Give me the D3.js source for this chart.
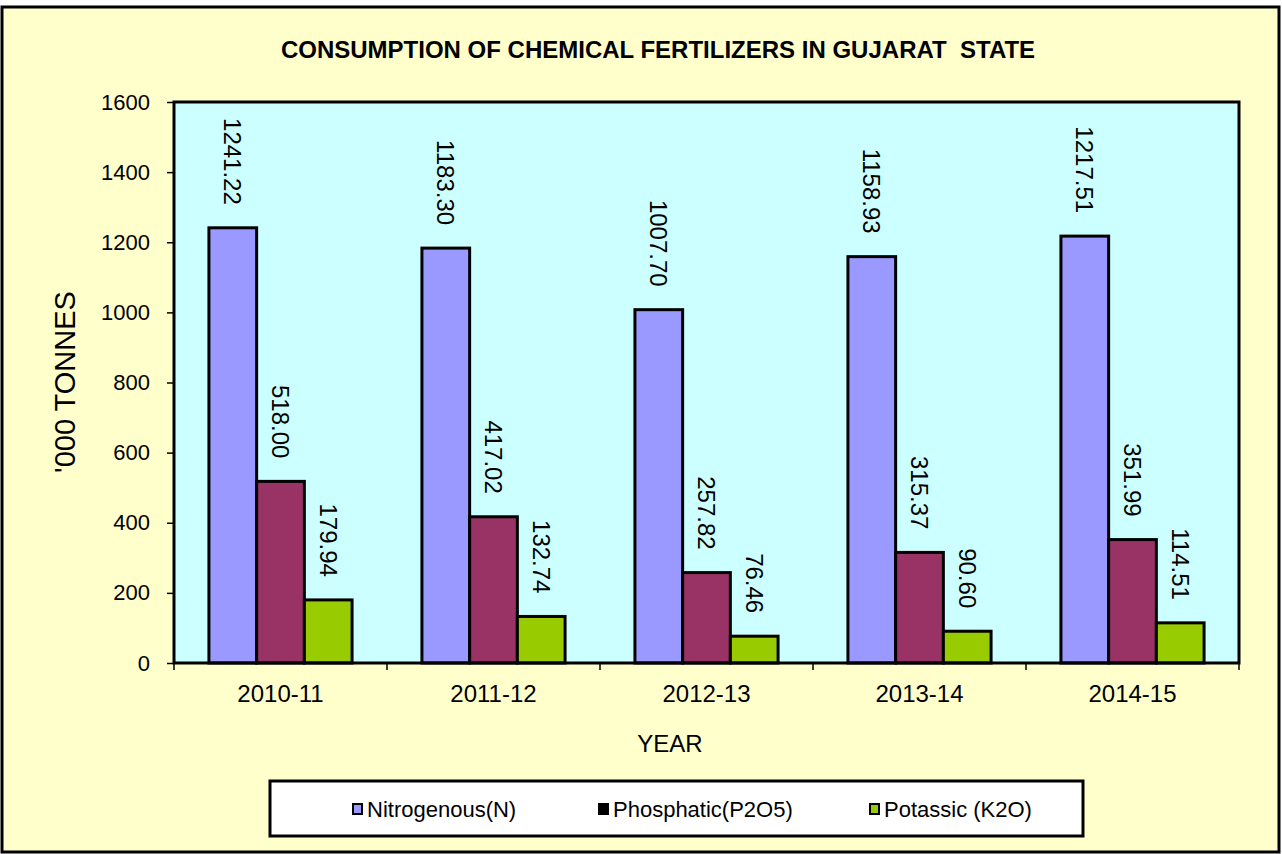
<!DOCTYPE html>
<html>
<head>
<meta charset="utf-8">
<script src="https://cdn.jsdelivr.net/npm/d3@7"></script>
<style>
  body { margin: 0; background: #ffffff; }
  text { font-family: "Liberation Sans", Arial, sans-serif; fill: #000; }
</style>
</head>
<body>
<div class="chart"></div>
<script>
const years = ["2010-11", "2011-12", "2012-13", "2013-14", "2014-15"];
const seriesNames = ["Nitrogenous(N)", "Phosphatic(P2O5)", "Potassic (K2O)"];
const nitrogenous = [1241.22, 1183.30, 1007.70, 1158.93, 1217.51];
const phosphatic = [518.00, 417.02, 257.82, 315.37, 351.99];
const potassic = [179.94, 132.74, 76.46, 90.60, 114.51];
const yTicks = [0, 200, 400, 600, 800, 1000, 1200, 1400, 1600];
const seriesColors = ["#9999ff", "#993366", "#99cc00"];
const legendSwatch = ["#9999ff", "#000000", "#99cc00"];

const W = 1282, H = 854;
const plot = { left: 174, top: 102, right: 1239, bottom: 663 };

const svg = d3.select(".chart").append("svg")
  .attr("width", W)
  .attr("height", H);

// outer frame
svg.append("rect")
  .attr("x", 2).attr("y", 7)
  .attr("width", 1277).attr("height", 845)
  .attr("fill", "#ffffcc")
  .attr("stroke", "#000").attr("stroke-width", 3);

svg.append("text")
  .attr("x", 658).attr("y", 58)
  .attr("text-anchor", "middle")
  .attr("xml:space", "preserve")
  .style("font-weight", "bold")
  .style("font-size", "24px")
  .text("CONSUMPTION OF CHEMICAL FERTILIZERS IN GUJARAT  STATE");

const x0 = d3.scaleBand()
  .domain(years)
  .range([plot.left, plot.right]);

const groupW = x0.bandwidth() * 0.672;
const x1 = d3.scaleBand()
  .domain(d3.range(seriesNames.length))
  .range([0, groupW]);

const y = d3.scaleLinear()
  .domain([0, 1600])
  .range([plot.bottom, plot.top]);

svg.append("rect")
  .attr("x", plot.left).attr("y", plot.top)
  .attr("width", plot.right - plot.left)
  .attr("height", plot.bottom - plot.top)
  .attr("fill", "#ccffff");

// y axis
const yAxis = svg.append("g")
  .attr("transform", `translate(${plot.left},0)`)
  .call(d3.axisLeft(y).tickValues(yTicks).tickSize(7).tickPadding(17).tickFormat(d3.format("d")));
yAxis.select(".domain").remove();
yAxis.selectAll("line").attr("stroke", "#000").attr("stroke-width", 1.5);
yAxis.selectAll("text").style("font-size", "22px").attr("font-family", null);

// x axis ticks at category boundaries
const xAxis = svg.append("g")
  .attr("transform", `translate(0,${plot.bottom})`);
const bounds = years.map(d => x0(d)).concat([plot.right]);
xAxis.selectAll("line")
  .data(bounds)
  .join("line")
  .attr("x1", d => d).attr("x2", d => d)
  .attr("y1", 0).attr("y2", 7)
  .attr("stroke", "#000").attr("stroke-width", 1.5);
xAxis.selectAll("text")
  .data(years)
  .join("text")
  .attr("x", d => x0(d) + x0.bandwidth() / 2)
  .attr("y", 39)
  .attr("text-anchor", "middle")
  .style("font-size", "24px")
  .text(d => d);

const data = years.map((yr, i) => ({
  year: yr,
  values: [nitrogenous[i], phosphatic[i], potassic[i]]
}));

const groups = svg.append("g").selectAll("g")
  .data(data)
  .join("g")
  .attr("transform", d => `translate(${x0(d.year) + (x0.bandwidth() - groupW) / 2},0)`);

groups.selectAll("rect")
  .data(d => d.values.map((v, k) => ({ v, k })))
  .join("rect")
  .attr("x", d => x1(d.k))
  .attr("y", d => y(d.v))
  .attr("width", x1.bandwidth())
  .attr("height", d => plot.bottom - y(d.v))
  .attr("fill", d => seriesColors[d.k])
  .attr("stroke", "#000")
  .attr("stroke-width", 3);

groups.selectAll("text")
  .data(d => d.values.map((v, k) => ({ v, k })))
  .join("text")
  .attr("transform", d => `translate(${x1(d.k) + x1.bandwidth() / 2},${y(d.v) - 23}) rotate(90)`)
  .attr("text-anchor", "end")
  .attr("dy", "0.36em")
  .style("font-size", "24px")
  .text(d => d.v.toFixed(2));

// plot border
svg.append("rect")
  .attr("x", plot.left).attr("y", plot.top)
  .attr("width", plot.right - plot.left)
  .attr("height", plot.bottom - plot.top)
  .attr("fill", "none")
  .attr("stroke", "#000").attr("stroke-width", 3);

// axis titles
svg.append("text")
  .attr("transform", "translate(75,382) rotate(-90)")
  .attr("text-anchor", "middle")
  .style("font-size", "29px")
  .text("'000 TONNES");

svg.append("text")
  .attr("x", 670).attr("y", 752)
  .attr("text-anchor", "middle")
  .style("font-size", "24px")
  .text("YEAR");

// legend
svg.append("rect")
  .attr("x", 270).attr("y", 781)
  .attr("width", 813).attr("height", 55)
  .attr("fill", "#fff")
  .attr("stroke", "#000").attr("stroke-width", 3);

const legendX = [353, 599, 870];
const legend = svg.append("g").selectAll("g")
  .data(seriesNames)
  .join("g")
  .attr("transform", (d, i) => `translate(${legendX[i]},809)`);
legend.append("rect")
  .attr("x", 0).attr("y", -5)
  .attr("width", 9).attr("height", 10)
  .attr("fill", (d, i) => legendSwatch[i])
  .attr("stroke", "#000").attr("stroke-width", 2);
legend.append("text")
  .attr("x", 14).attr("dy", "0.36em")
  .style("font-size", "22px")
  .text(d => d);
</script>
</body>
</html>
